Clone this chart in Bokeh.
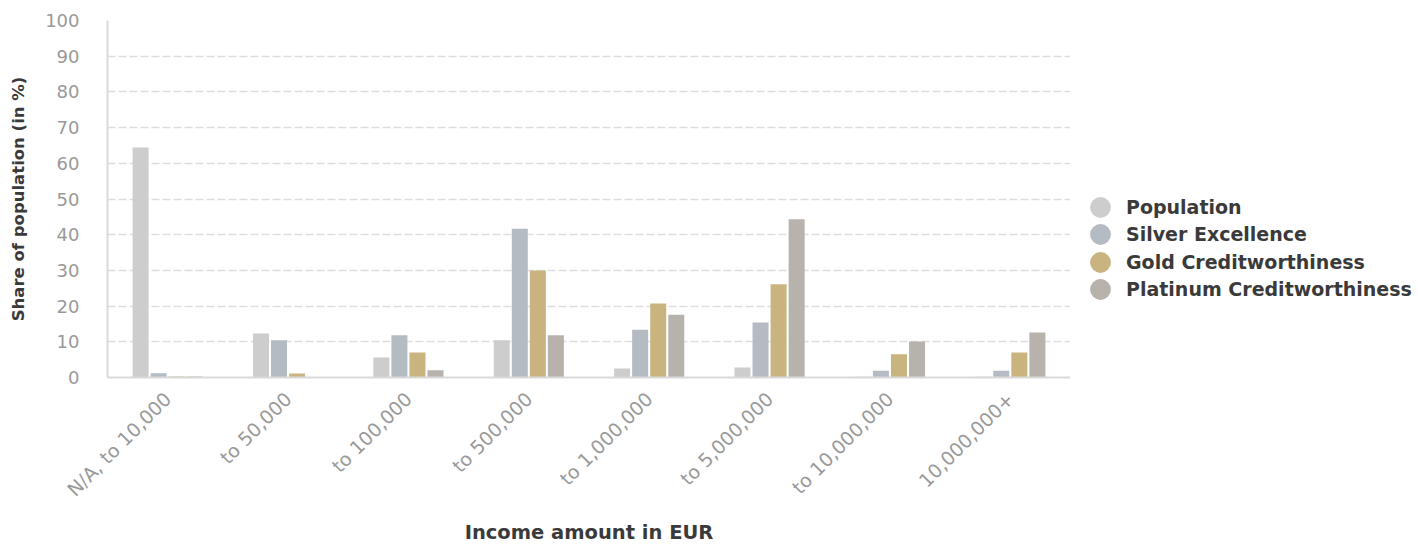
from math import pi, nan
from bokeh.plotting import figure
from bokeh.layouts import row
from bokeh.models import ColumnDataSource, FactorRange, Legend, LegendItem, SingleIntervalTicker
from bokeh.transform import dodge
from bokeh.embed import file_html
from bokeh.resources import INLINE

categories = ["N/A, to 10,000", "to 50,000", "to 100,000", "to 500,000",
              "to 1,000,000", "to 5,000,000", "to 10,000,000", "10,000,000+"]
population = [64.4, 12.3, 5.6, 10.4, 2.5, 2.8, 0.2, 0.2]
silver = [1.2, 10.4, 11.8, 41.7, 13.4, 15.4, 1.9, 1.9]
gold = [0.3, 1.1, 7.0, 30.0, 20.7, 26.1, 6.5, 7.0]
platinum = [0.3, 0.0, 2.0, 11.8, 17.6, 44.3, 10.1, 12.6]
series_names = ["Population", "Silver Excellence", "Gold Creditworthiness", "Platinum Creditworthiness"]
colors = ["#cdcdcd", "#b5bbc2", "#c9b47f", "#b7b2ab"]

source = ColumnDataSource(dict(cat=categories, population=population, silver=silver,
                               gold=gold, platinum=platinum))

FONT = "DejaVu Sans"
p = figure(x_range=FactorRange(*categories), y_range=(0, 100),
           frame_width=963, frame_height=357, output_backend="svg", toolbar_location=None,
           min_border_left=107, min_border_right=0, min_border_top=20, min_border_bottom=168)
p.outline_line_color = None

keys = ["population", "silver", "gold", "platinum"]
offsets = [-0.225, -0.075, 0.075, 0.225]
for k, off, c in zip(keys, offsets, colors):
    p.vbar(x=dodge("cat", off, range=p.x_range), top=k, width=0.133, source=source,
           fill_color=c, line_color=None)

# y axis
p.yaxis.ticker = SingleIntervalTicker(interval=10)
p.yaxis.axis_label = "Share of population (in %)"
p.yaxis.axis_label_text_font = FONT
p.yaxis.axis_label_text_font_size = "16.5px"
p.yaxis.axis_label_text_font_style = "bold"
p.yaxis.axis_label_text_color = "#3a3a3a"
p.yaxis.axis_label_standoff = 14
p.yaxis.major_label_text_font = FONT
p.yaxis.major_label_text_font_size = "18px"
p.yaxis.major_label_text_color = "#999999"
p.yaxis.major_label_standoff = 22
p.yaxis.major_tick_line_color = None
p.yaxis.minor_tick_line_color = None
p.yaxis.axis_line_color = "#d9d9d9"
p.yaxis.axis_line_width = 2

# x axis
p.xaxis.axis_label = "Income amount in EUR"
p.xaxis.axis_label_text_font = FONT
p.xaxis.axis_label_text_font_size = "19.5px"
p.xaxis.axis_label_text_font_style = "bold"
p.xaxis.axis_label_text_color = "#3a3a3a"
p.xaxis.axis_label_standoff = 10
p.xaxis.major_label_orientation = pi / 4
p.xaxis.major_label_text_font = FONT
p.xaxis.major_label_text_font_size = "19px"
p.xaxis.major_label_text_color = "#999999"
p.xaxis.major_label_standoff = 12
p.xaxis.major_tick_line_color = None
p.xaxis.minor_tick_line_color = None
p.xaxis.axis_line_color = "#d9d9d9"
p.xaxis.axis_line_width = 2

p.xgrid.grid_line_color = None
p.ygrid.grid_line_color = "#dddddd"
p.ygrid.grid_line_width = 1.5
p.ygrid.grid_line_dash = "8 3"

# legend panel: a blank figure holding one single-item legend per series
lf = figure(width=348, height=545, output_backend="svg", toolbar_location=None,
            x_axis_location=None, y_axis_location=None, min_border=0,
            x_range=(0, 1), y_range=(0, 1))
lf.outline_line_color = None
lf.grid.grid_line_color = None
legend_bottoms = [142, 115, 87, 60]
for name, c, yb in zip(series_names, colors, legend_bottoms):
    r = lf.scatter(x=[nan], y=[nan], marker="circle", size=21, fill_color=c, line_color=None)
    lg = Legend(items=[LegendItem(label=name, renderers=[r])], location=(4, yb),
                label_text_font=FONT, label_text_font_size="19px", label_text_font_style="bold",
                label_text_color="#3a3a3a", glyph_width=52, glyph_height=52,
                label_standoff=0, padding=0, margin=0, border_line_color=None,
                background_fill_alpha=0, label_height=20)
    lf.add_layout(lg, "center")

layout = row(p, lf, spacing=0)
open("out.html", "w").write(file_html(layout, INLINE))
